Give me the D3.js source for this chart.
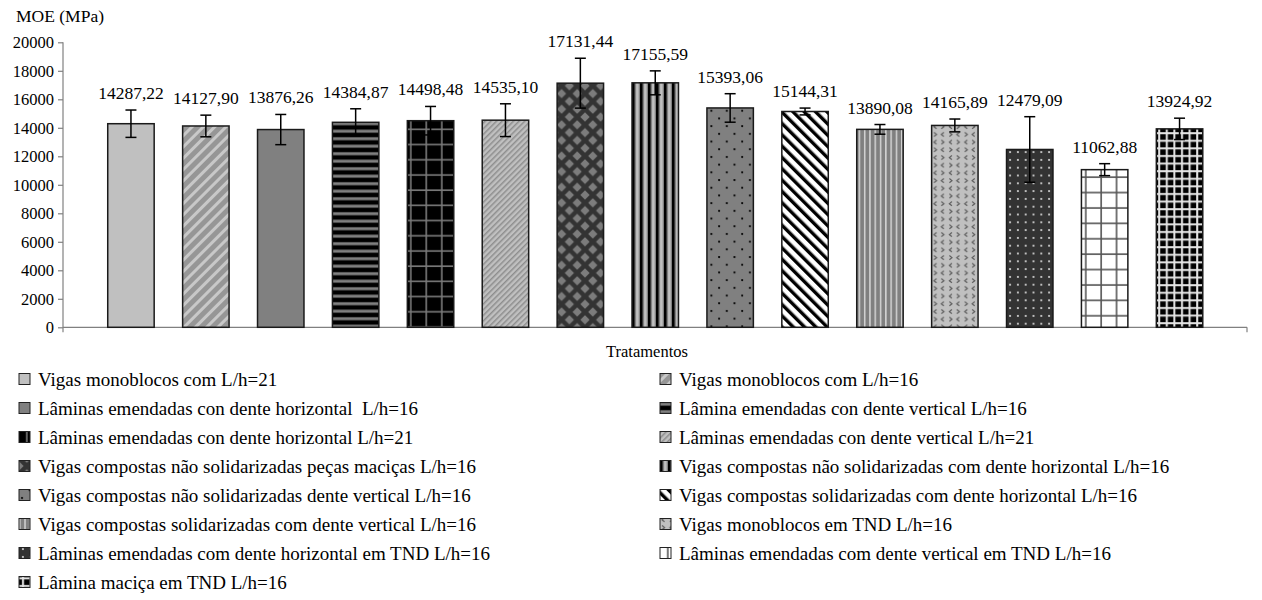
<!DOCTYPE html>
<html>
<head>
<meta charset="utf-8">
<script src="https://cdn.jsdelivr.net/npm/d3@7"></script>
<style>
  body { margin: 0; background: #fff; }
  text { font-family: "Liberation Serif", "Times New Roman", serif; fill: #000; }
</style>
</head>
<body>
<svg id="chart" width="1262" height="600"></svg>
<script>
// Treatments (one bar each) and their legend labels
const categories = [
  "Vigas monoblocos com L/h=21",
  "Vigas monoblocos com L/h=16",
  "Lâminas emendadas con dente horizontal  L/h=16",
  "Lâmina emendadas con dente vertical L/h=16",
  "Lâminas emendadas con dente horizontal L/h=21",
  "Lâminas emendadas con dente vertical L/h=21",
  "Vigas compostas não solidarizadas peças maciças L/h=16",
  "Vigas compostas não solidarizadas com dente horizontal L/h=16",
  "Vigas compostas não solidarizadas dente vertical L/h=16",
  "Vigas compostas solidarizadas com dente horizontal L/h=16",
  "Vigas compostas solidarizadas com dente vertical L/h=16",
  "Vigas monoblocos em TND L/h=16",
  "Lâminas emendadas com dente horizontal em TND L/h=16",
  "Lâminas emendadas com dente vertical em TND L/h=16",
  "Lâmina maciça em TND L/h=16"
];

// Mean modulus of elasticity (MPa)
const meanMOE = [
  14287.22, 14127.90, 13876.26, 14384.87, 14498.48,
  14535.10, 17131.44, 17155.59, 15393.06, 15144.31,
  13890.08, 14165.89, 12479.09, 11062.88, 13924.92
];

// Standard deviation shown as error bars (MPa)
const sdMOE = [
  960, 760, 1060, 950, 1000,
  1150, 1750, 840, 1000, 240,
  340, 450, 2300, 420, 750
];

const yTicks = [0, 2000, 4000, 6000, 8000, 10000, 12000, 14000, 16000, 18000, 20000];
const yTitle = "MOE (MPa)";
const xTitle = "Tratamentos";

const svg = d3.select("#chart");
const defs = svg.append("defs");

// ---- fill patterns -------------------------------------------------------
function pattern(id, w, h, bg, draw, transform) {
  const p = defs.append("pattern")
    .attr("id", id)
    .attr("patternUnits", "userSpaceOnUse")
    .attr("width", w).attr("height", h);
  if (transform) p.attr("patternTransform", transform);
  p.append("rect").attr("width", w).attr("height", h).attr("fill", bg);
  if (draw) draw(p, w, h);
  return `url(#${id})`;
}
const rect = (p, x, y, w, h, c) => p.append("rect").attr("x", x).attr("y", y).attr("width", w).attr("height", h).attr("fill", c);
const dot = (p, x, y, r, c) => p.append("circle").attr("cx", x).attr("cy", y).attr("r", r).attr("fill", c);

const fills = [
  "#c0c0c0",
  pattern("pDiagWide", 8, 8, "#969696", (p, w, h) => rect(p, 0, 0, 3, h, "#c8c8c8"), "rotate(45)"),
  "#808080",
  pattern("pHoriz", 8, 7.5, "#000", (p, w) => rect(p, 0, 2.2, w, 3, "#808080")),
  pattern("pGridDark", 15.5, 15.2, "#000", (p, w, h) => { rect(p, 7, 0, 1.6, h, "#7a7a7a"); rect(p, 0, 7, w, 1.6, "#7a7a7a"); }),
  pattern("pDiagFine", 4, 4, "#c0c0c0", (p, w, h) => rect(p, 0, 0, 1.5, h, "#8e8e8e"), "rotate(45)"),
  pattern("pDiamond", 15.6, 15.6, "#333", (p, w, h) => {
    const s = 4.6;
    const di = (cx, cy) => p.append("polygon")
      .attr("points", `${cx},${cy - s} ${cx + s},${cy} ${cx},${cy + s} ${cx - s},${cy}`)
      .attr("fill", "#7c7c7c");
    di(w / 2, h / 2); di(0, 0); di(w, 0); di(0, h); di(w, h);
  }),
  pattern("pVertDark", 8, 8, "#c0c0c0", (p, w, h) => {
    rect(p, 0, 0, 2.8, h, "#000");
    rect(p, 2.8, 0, 1.3, h, "#808080");
    rect(p, 6.7, 0, 1.3, h, "#808080");
  }),
  pattern("pDotsGray", 15.4, 15.4, "#808080", (p) => { dot(p, 3, 3, 1.1, "#000"); dot(p, 10.7, 10.7, 1.1, "#000"); }),
  pattern("pDiagDown", 8, 8, "#fff", (p, w, h) => rect(p, 0, 0, 3.4, h, "#000"), "rotate(-45)"),
  pattern("pVertLight", 5.3, 8, "#808080", (p, w, h) => rect(p, 0, 0, 1.5, h, "#d4d4d4")),
  pattern("pDivot", 15.4, 15.4, "#c0c0c0", (p) => {
    const ch = (d) => p.append("path").attr("d", d).attr("fill", "none").attr("stroke", "#5a5a5a").attr("stroke-width", 1.2);
    ch("M2,1.5 L4.5,3.5 L2,5.5");
    ch("M12.5,1.5 L10,3.5 L12.5,5.5");
    ch("M4.5,9.2 L2,11.2 L4.5,13.2");
    ch("M10,9.2 L12.5,11.2 L10,13.2");
  }),
  pattern("pDotsDark", 7.8, 7.8, "#333", (p) => dot(p, 3.9, 3.9, 1.05, "#e0e0e0")),
  pattern("pGridWhite", 15.4, 15.4, "#fff", (p, w, h) => { rect(p, 7, 0, 1.6, h, "#555"); rect(p, 0, 7, w, 1.6, "#555"); }),
  pattern("pGridFine", 7.6, 7.6, "#000", (p, w, h) => { rect(p, 3, 0, 2, h, "#e6e6e6"); rect(p, 0, 3, w, 2, "#e6e6e6"); })
];

// ---- layout --------------------------------------------------------------
const plotLeft = 63, plotRight = 1247, plotTop = 42.3, plotBottom = 327.3;

const x = d3.scaleBand()
  .domain(d3.range(categories.length))
  .range([plotLeft + 30.5, plotRight - 30])
  .paddingInner(0.38)
  .paddingOuter(0.19);

const y = d3.scaleLinear().domain([0, 20000]).range([plotBottom, plotTop]);

const axisColor = "#808080";

// y axis
const yAxis = svg.append("g")
  .attr("transform", `translate(${plotLeft},0)`)
  .call(d3.axisLeft(y).tickValues(yTicks).tickSize(5).tickSizeOuter(0).tickPadding(4).tickFormat(d3.format("d")));
yAxis.attr("font-family", null);
yAxis.select(".domain").remove();
yAxis.selectAll(".tick line").attr("stroke", axisColor).attr("stroke-width", 1.2);
yAxis.selectAll(".tick text").attr("font-size", 16.5);
yAxis.append("line")
  .attr("x1", 0).attr("x2", 0)
  .attr("y1", y(20000)).attr("y2", y(0) + 5)
  .attr("stroke", axisColor).attr("stroke-width", 1.2);

// x axis baseline with end tick
svg.append("line")
  .attr("x1", plotLeft).attr("x2", plotRight)
  .attr("y1", y(0)).attr("y2", y(0))
  .attr("stroke", axisColor).attr("stroke-width", 1.2);
svg.append("line")
  .attr("x1", plotRight).attr("x2", plotRight)
  .attr("y1", y(0)).attr("y2", y(0) + 5)
  .attr("stroke", axisColor).attr("stroke-width", 1.2);

// bars
svg.append("g").selectAll("rect")
  .data(meanMOE)
  .join("rect")
  .attr("x", (d, i) => x(i))
  .attr("width", x.bandwidth())
  .attr("y", d => y(d))
  .attr("height", d => y(0) - y(d))
  .attr("fill", (d, i) => fills[i])
  .attr("stroke", "#1a1a1a")
  .attr("stroke-width", 1.5);

// error bars
const capHalf = 5.5;
const err = svg.append("g").attr("stroke", "#000").attr("stroke-width", 1.5);
meanMOE.forEach((m, i) => {
  const cx = x(i) + x.bandwidth() / 2;
  const hi = y(m + sdMOE[i]), lo = y(m - sdMOE[i]);
  err.append("line").attr("x1", cx).attr("x2", cx).attr("y1", hi).attr("y2", lo);
  err.append("line").attr("x1", cx - capHalf).attr("x2", cx + capHalf).attr("y1", hi).attr("y2", hi);
  err.append("line").attr("x1", cx - capHalf).attr("x2", cx + capHalf).attr("y1", lo).attr("y2", lo);
});

// value labels (decimal comma)
const fmt = v => d3.format(".2f")(v).replace(".", ",");
svg.append("g").selectAll("text")
  .data(meanMOE)
  .join("text")
  .attr("x", (d, i) => x(i) + x.bandwidth() / 2)
  .attr("y", (d, i) => y(d + sdMOE[i]) - 11)
  .attr("text-anchor", "middle")
  .attr("font-size", 17.5)
  .text(d => fmt(d));

// titles
svg.append("text").attr("x", 16).attr("y", 22).attr("font-size", 17.5).text(yTitle);
svg.append("text").attr("x", 647).attr("y", 357).attr("text-anchor", "middle").attr("font-size", 16.5).text(xTitle);

// legend: two columns, filled row by row
const legendRow0 = 379, legendRowStep = 29;
const legendCols = [19, 660];
const legend = svg.append("g").selectAll("g")
  .data(categories)
  .join("g")
  .attr("transform", (d, i) => `translate(${legendCols[i % 2]},${legendRow0 + Math.floor(i / 2) * legendRowStep})`);
legend.append("rect")
  .attr("x", 0).attr("y", -5.5)
  .attr("width", 11).attr("height", 11)
  .attr("fill", (d, i) => fills[i])
  .attr("stroke", "#222").attr("stroke-width", 1);
legend.append("text")
  .attr("x", 19).attr("y", 6.5)
  .attr("font-size", 19)
  .style("white-space", "pre")
  .text(d => d);
</script>
</body>
</html>
